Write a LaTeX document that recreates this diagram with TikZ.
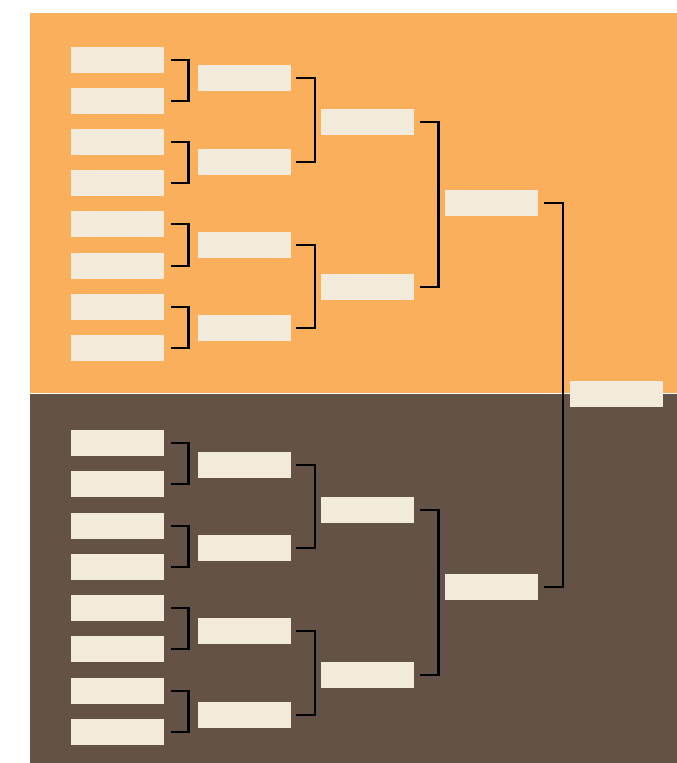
\documentclass[tikz,border=0pt]{standalone}
\usetikzlibrary{calc}
\definecolor{orangebg}{RGB}{249,175,91}
\definecolor{brownbg}{RGB}{99,82,69}
\definecolor{slotfill}{RGB}{242,235,220}
\tikzset{
  slot/.style={fill=slotfill, draw=none, minimum width=93pt, minimum height=26pt, inner sep=0pt, outer sep=0pt},
  bracketline/.style={draw=black, line width=2.4pt, line join=miter}
}
\begin{document}
\begin{tikzpicture}[x=1pt,y=-1pt]
\useasboundingbox (0,0) rectangle (677,763);
\fill[white] (0,0) rectangle (677,763);
\fill[orangebg] (29.5,13) rectangle (677,392.8);
\fill[brownbg] (29.5,393.8) rectangle (677,763);
% round 1
\foreach \i/\y in {1/60,2/101,3/142,4/183,5/224,6/266,7/307,8/348,9/443,10/484,11/526,12/567,13/608,14/649,15/691,16/732}
  \node[slot] (a\i) at (117.5,\y) {};
% round 2
\foreach \i/\y in {1/78,2/162,3/245,4/328,5/465,6/548,7/631,8/715}
  \node[slot] (b\i) at (244.5,\y) {};
% round 3
\foreach \i/\y in {1/122,2/287,3/510,4/675}
  \node[slot] (c\i) at (367.5,\y) {};
% round 4
\node[slot] (d1) at (491.5,203) {};
\node[slot] (d2) at (491.5,587) {};
% final
\node[slot] (f) at (616.5,394) {};
% brackets round 1
\foreach \p/\q in {a1/a2,a3/a4,a5/a6,a7/a8,a9/a10,a11/a12,a13/a14,a15/a16}
  \draw[bracketline] ([xshift=7pt]\p.east) -- ++(17.5,0) |- ([xshift=7pt]\q.east);
% brackets round 2
\foreach \p/\q in {b1/b2,b3/b4,b5/b6,b7/b8}
  \draw[bracketline] ([xshift=5pt]\p.east) -- ++(19,0) |- ([xshift=5pt]\q.east);
% brackets round 3
\foreach \p/\q in {c1/c2,c3/c4}
  \draw[bracketline] ([xshift=6pt]\p.east) -- ++(18.5,0) |- ([xshift=6pt]\q.east);
% bracket round 4
\draw[bracketline] ([xshift=6pt]d1.east) -- ++(19,0) |- ([xshift=6pt]d2.east);
\end{tikzpicture}
\end{document}
